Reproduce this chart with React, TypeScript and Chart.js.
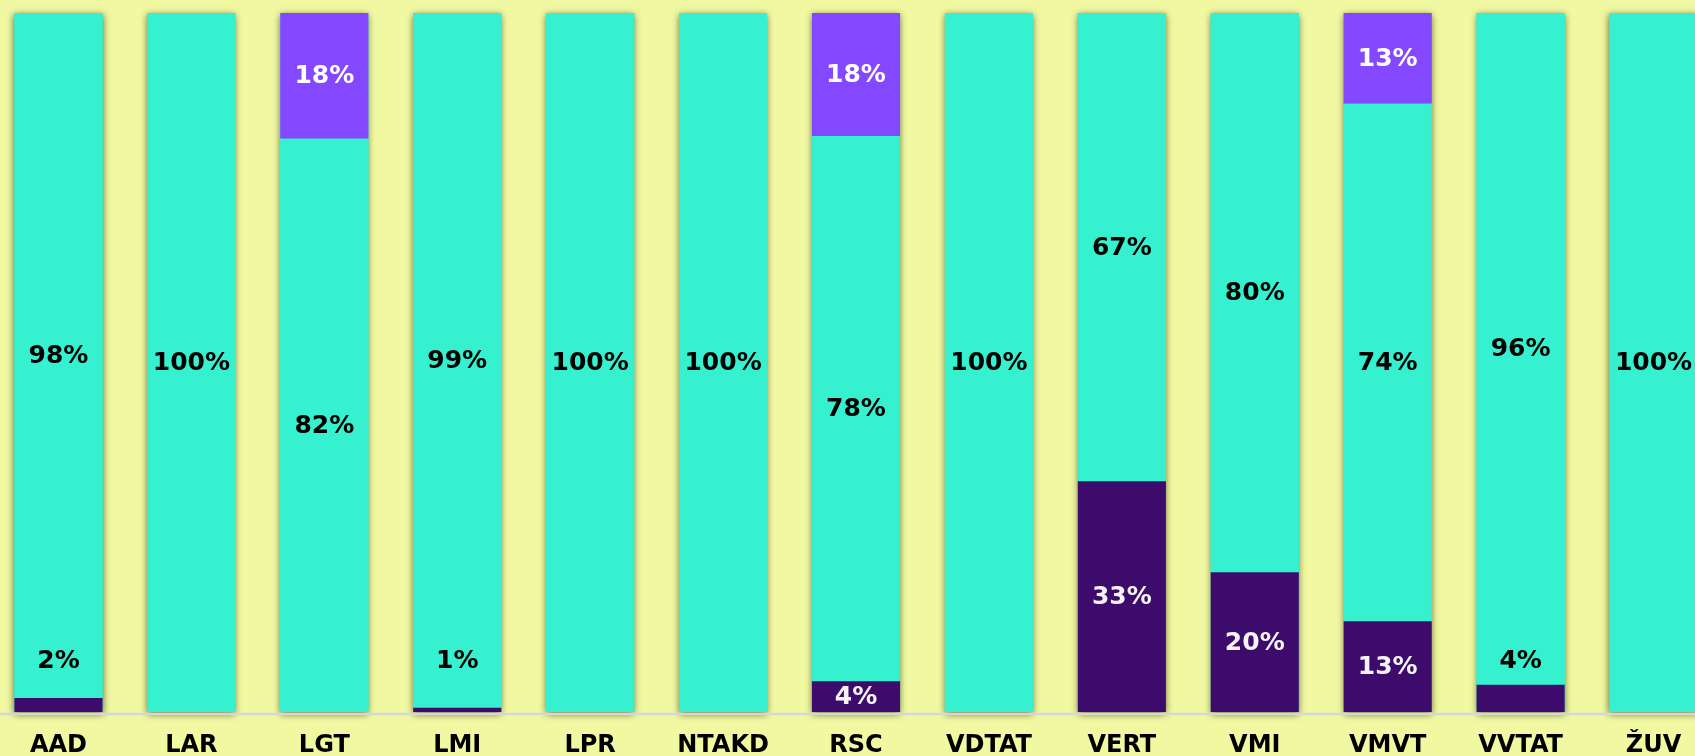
import React, { useEffect, useRef } from "react";
import { Chart, registerables } from "chart.js";

Chart.register(...registerables);

const categories = ["AAD", "LAR", "LGT", "LMI", "LPR", "NTAKD", "RSC", "VDTAT", "VERT", "VMI", "VMVT", "VVTAT", "ŽUV"];
const darkValues = [2, 0, 0, 0.6, 0, 0, 4.4, 0, 33, 20, 13, 3.9, 0];
const tealValues = [98, 100, 82, 99.4, 100, 100, 78, 100, 67, 80, 74, 96.1, 100];
const lightValues = [0, 0, 18, 0, 0, 0, 17.6, 0, 0, 0, 13, 0, 0];

const BG = "#F0F8A2";
const DARK = "#3C0B6B";
const TEAL = "#36F1CF";
const LIGHT = "#8348FF";
const FONT = "'DejaVu Sans', Verdana, sans-serif";

const shadowPlugin = {
  id: "barShadow",
  beforeDatasetsDraw(chart: any) {
    const ctx = chart.ctx;
    const meta = chart.getDatasetMeta(1);
    const y = chart.scales.y;
    const top = y.getPixelForValue(100);
    const bottom = y.getPixelForValue(0);
    ctx.save();
    ctx.shadowColor = "rgba(50,50,10,0.75)";
    ctx.shadowBlur = 7;
    ctx.shadowOffsetX = 0;
    ctx.shadowOffsetY = 2;
    ctx.fillStyle = TEAL;
    meta.data.forEach((el: any) => {
      const w = el.width;
      ctx.fillRect(el.x - w / 2, top, w, bottom - top);
    });
    ctx.restore();
  },
  afterDatasetsDraw(chart: any) {
    const ctx = chart.ctx;
    const y = chart.scales.y;
    const bottom = y.getPixelForValue(0);
    ctx.save();
    ctx.strokeStyle = "#D6D6D6";
    ctx.lineWidth = 2.5;
    ctx.beginPath();
    ctx.moveTo(0, bottom + 2);
    ctx.lineTo(chart.width, bottom + 2);
    ctx.stroke();

    ctx.font = `bold 25px ${FONT}`;
    ctx.textAlign = "center";
    ctx.textBaseline = "middle";
    const colors = ["#F4F4F4", "#000000", "#FFFFFF"];
    chart.data.datasets.forEach((ds: any, di: number) => {
      const meta = chart.getDatasetMeta(di);
      meta.data.forEach((el: any, i: number) => {
        const v = ds.data[i];
        if (!v) return;
        const txt = Math.round(v) + "%";
        let cy = (el.y + el.base) / 2 + 1;
        let color = colors[di];
        if (di === 0 && v < 4) {
          cy = y.getPixelForValue(7.2);
          color = "#000000";
        }
        ctx.fillStyle = color;
        ctx.fillText(txt, el.x, cy);
      });
    });
    ctx.restore();
  },
};

export default function App() {
  const ref = useRef<HTMLCanvasElement>(null);
  useEffect(() => {
    document.body.style.overflow = "hidden";
    const canvas = ref.current!;
    const chart = new Chart(canvas, {
      type: "bar",
      data: {
        labels: categories,
        datasets: [
          { label: "dark", data: darkValues, backgroundColor: DARK, borderWidth: 0 },
          { label: "teal", data: tealValues, backgroundColor: TEAL, borderWidth: 0 },
          { label: "light", data: lightValues, backgroundColor: LIGHT, borderWidth: 0 },
        ],
      },
      options: {
        responsive: false,
        animation: false,
        devicePixelRatio: 1,
        layout: { padding: { left: 12, right: 20, top: 13, bottom: 0 } },
        plugins: { legend: { display: false }, tooltip: { enabled: false } },
        datasets: { bar: { categoryPercentage: 1, barPercentage: 0.663 } },
        scales: {
          x: {
            stacked: true,
            grid: { display: false, drawTicks: false },
            border: { display: false },
            ticks: { color: "#000", font: { family: FONT, size: 24, weight: "bold" }, padding: 19, maxRotation: 0, autoSkip: false },
            afterFit: (s: any) => { s.height = 88; },
          },
          y: { stacked: true, min: 0, max: 100, display: false },
        },
      },
      plugins: [shadowPlugin],
    });
    return () => chart.destroy();
  }, []);
  return (
    <div style={{ position: "fixed", left: 0, top: 0, width: "100vw", height: "100vh", overflow: "hidden", background: BG }}>
      <canvas ref={ref} width={1760} height={800} style={{ position: "absolute", left: -20, top: 0 }} />
    </div>
  );
}
